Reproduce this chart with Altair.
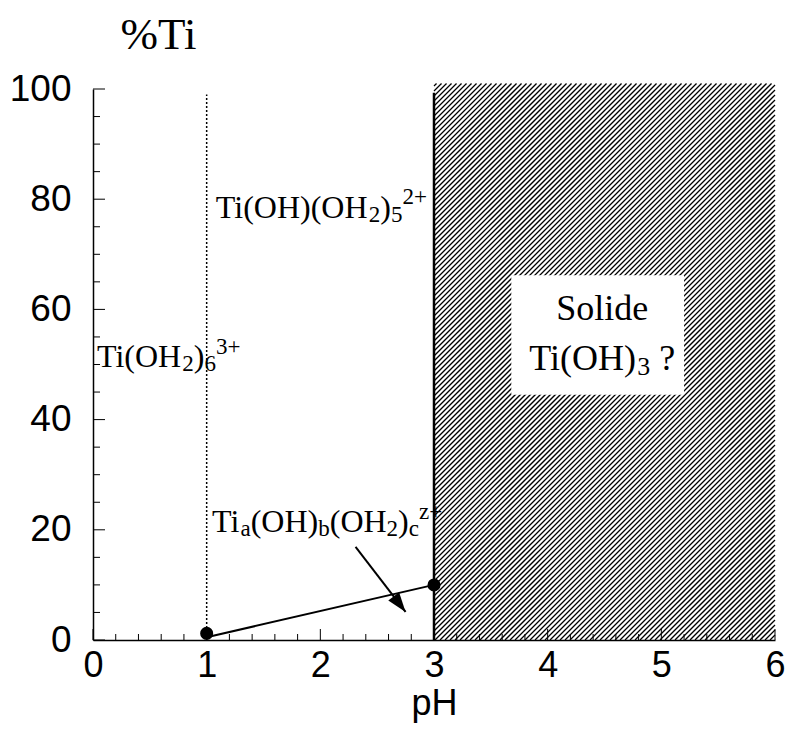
import altair as alt
import pandas as pd
import numpy as np

# ---------------- data ----------------
x_ticks = [0, 1, 2, 3, 4, 5, 6]
y_ticks = [0, 20, 40, 60, 80, 100]

point_ph = [1.0, 3.0]
point_ti = [1.2, 10.0]

seg_ph = [1.0, 3.0]
seg_ti = [0.5, 10.0]

arrow_from = [2.31, 16.9]
arrow_to = [2.75, 5.1]

dotted_ph = 1.0
dotted_top = 99.0
solid_ph = 3.0
solid_top = 99.3

solid_region_ph = [3.0, 6.0]
solid_region_ti = [0.0, 101.0]

box_ph = [3.68, 5.20]
box_ti = [44.5, 66.2]

# ---------------- geometry ----------------
W, H = 682, 551
XMIN, XMAX, YMIN, YMAX = 0, 6, 0, 100
KX = W / (XMAX - XMIN)
KY = H / (YMAX - YMIN)

XSCALE = alt.Scale(domain=[XMIN, XMAX], nice=False, zero=False)
YSCALE = alt.Scale(domain=[YMIN, YMAX], nice=False, zero=False)

XAXIS = alt.Axis(values=x_ticks, ticks=False, grid=False, domain=True,
                 domainColor="black", domainWidth=1.5, format="d",
                 labelFont="Liberation Sans", labelFontSize=36, labelColor="black",
                 labelPadding=8, labelFlush=False, labelOverlap=False,
                 title="pH", titleFont="Liberation Sans", titleFontSize=36,
                 titleFontWeight="normal", titleColor="black", titlePadding=3)
YAXIS = alt.Axis(values=y_ticks, ticks=False, grid=False, domain=True,
                 domainColor="black", domainWidth=1.5, format="d",
                 labelFont="Liberation Sans", labelFontSize=37, labelColor="black",
                 labelPadding=22, labelFlush=False, labelOverlap=False,
                 title="%Ti", titleAngle=0, titleX=65, titleY=-41,
                 titleAlign="center", titleBaseline="alphabetic",
                 titleFont="Liberation Serif", titleFontSize=45,
                 titleFontWeight="normal", titleColor="black")


def X(f="x"):
    return alt.X(f"{f}:Q", scale=XSCALE, axis=XAXIS)


def Y(f="y"):
    return alt.Y(f"{f}:Q", scale=YSCALE, axis=YAXIS)


# ---------------- hatch of the solid region ----------------
x0, x1 = solid_region_ph
y0, y1 = solid_region_ti
uw, vh = (x1 - x0) * KX, (y1 - y0) * KY
step = 5.0
rows = []
c = -uw
while c < vh:
    ua = max(0.0, -c)
    ub = min(uw, vh - c)
    if ub > ua:
        rows.append({"x": x0 + ua / KX, "y": y0 + (ua + c) / KY,
                     "x2": x0 + ub / KX, "y2": y0 + (ub + c) / KY})
    c += step
hatch_df = pd.DataFrame(rows)
hatch = alt.Chart(hatch_df).mark_rule(color="black", strokeWidth=1.3).encode(
    x=X(), y=Y(), x2="x2:Q", y2="y2:Q")

box = alt.Chart(pd.DataFrame({"x": [box_ph[0]], "x2": [box_ph[1]],
                              "y": [box_ti[0]], "y2": [box_ti[1]]})).mark_rect(
    fill="white").encode(x=X(), x2="x2:Q", y=Y(), y2="y2:Q")

solid_line = alt.Chart(pd.DataFrame({"x": [solid_ph], "y": [0.0], "y2": [solid_top]})).mark_rule(
    color="black", strokeWidth=2.5).encode(x=X(), y=Y(), y2="y2:Q")

dotted_line = alt.Chart(pd.DataFrame({"x": [dotted_ph], "y": [0.0], "y2": [dotted_top]})).mark_rule(
    color="black", strokeWidth=1.5, strokeDash=[2, 2]).encode(x=X(), y=Y(), y2="y2:Q")

seg = alt.Chart(pd.DataFrame({"x": seg_ph, "y": seg_ti})).mark_line(
    color="black", strokeWidth=2).encode(x=X(), y=Y())

pts = alt.Chart(pd.DataFrame({"x": point_ph, "y": point_ti})).mark_point(
    filled=True, color="black", size=170, opacity=1, shape="circle").encode(x=X(), y=Y())

shaft = alt.Chart(pd.DataFrame({"x": [arrow_from[0]], "y": [arrow_from[1]],
                                "x2": [arrow_to[0]], "y2": [arrow_to[1]]})).mark_rule(
    color="black", strokeWidth=2).encode(x=X(), y=Y(), x2="x2:Q", y2="y2:Q")

# direction in screen coords: dx right, dy down
sdx = (arrow_to[0] - arrow_from[0]) * KX
sdy = -(arrow_to[1] - arrow_from[1]) * KY
ang = float(np.degrees(np.arctan2(sdx, -sdy))) % 360
head = alt.Chart(pd.DataFrame({"x": [arrow_to[0]], "y": [arrow_to[1]]})).mark_point(
    filled=True, color="black", opacity=1, size=380, angle=ang,
    shape="M0,0 L0.7,2 L-0.7,2 Z").encode(x=X(), y=Y())

# ---------------- ticks (inside) ----------------
x_minor = [round(v, 1) for v in np.arange(0.2, 6.0, 0.2) if abs(v - round(v)) > 1e-6]
y_minor = [v for v in range(5, 100, 5) if v % 20 != 0]

xt_major = alt.Chart(pd.DataFrame({"x": x_ticks})).mark_rule(color="black", strokeWidth=1).encode(
    x=X(), y=alt.value(H), y2=alt.value(H - 11))
xt_minor = alt.Chart(pd.DataFrame({"x": x_minor})).mark_rule(color="black", strokeWidth=1).encode(
    x=X(), y=alt.value(H), y2=alt.value(H - 6))
yt_major = alt.Chart(pd.DataFrame({"y": y_ticks})).mark_rule(color="black", strokeWidth=1).encode(
    y=Y(), x=alt.value(0), x2=alt.value(12))
yt_minor = alt.Chart(pd.DataFrame({"y": y_minor})).mark_rule(color="black", strokeWidth=1).encode(
    y=Y(), x=alt.value(0), x2=alt.value(7))

# ---------------- labels with sub/superscripts ----------------
TW = {"T": 611, "i": 278, "(": 333, ")": 333, "O": 722, "H": 722, "+": 564,
      "a": 444, "b": 500, "c": 444, "z": 444, "S": 556, "o": 500, "l": 278,
      "d": 500, "e": 444, "?": 444, " ": 250}
for dgt in "0123456789":
    TW[dgt] = 500

SUB_SCALE, SUB_DY, SUP_SCALE, SUP_DY = 0.72, 0.13, 0.72, -0.42


def frag_rows(parts, xd, yd, S, center=False):
    items = []
    for text, kind in parts:
        sc = 1.0 if kind == "n" else (SUB_SCALE if kind == "sub" else SUP_SCALE)
        dy = 0.0 if kind == "n" else (SUB_DY if kind == "sub" else SUP_DY)
        w = sum(TW.get(ch, 500) for ch in text) * S * sc / 1000.0
        items.append((text, S * sc, dy * S, w))
    total = sum(it[3] for it in items)
    cur = -total / 2 if center else 0.0
    out = []
    for text, fs, dy, w in items:
        if text.strip():
            out.append({"x": xd + cur / KX, "y": yd - dy / KY, "t": text, "fs": fs})
        cur += w
    return out


lab_rows = []
lab_rows += frag_rows([("Ti(OH)(OH", "n"), ("2", "sub"), (")", "n"), ("5", "sub"), ("2+", "sup")],
                      1.081, 76.6, 32)
lab_rows += frag_rows([("Ti(OH", "n"), ("2", "sub"), (")", "n"), ("6", "sub"), ("3+", "sup")],
                      0.035, 49.5, 32)
lab_rows += frag_rows([("Ti", "n"), ("a", "sub"), ("(OH)", "n"), ("b", "sub"), ("(OH", "n"),
                       ("2", "sub"), (")", "n"), ("c", "sub"), ("z+", "sup")],
                      1.047, 19.6, 32)
lab_rows += frag_rows([("Solide", "n")], 4.48, 58.1, 36, center=True)
lab_rows += frag_rows([("Ti(OH)", "n"), ("3", "sub"), (" ", "n"), ("?", "n")], 4.48, 49.0, 36, center=True)

labels = alt.Chart(pd.DataFrame(lab_rows)).mark_text(
    font="Liberation Serif", align="left", baseline="alphabetic", color="black").encode(
    x=X(), y=Y(), text="t:N", size=alt.Size("fs:Q", scale=None, legend=None))

chart = alt.layer(
    hatch, box, solid_line, dotted_line, seg, pts, shaft, head,
    xt_major, xt_minor, yt_major, yt_minor, labels
).properties(
    width=W, height=H,
    autosize=alt.AutoSizeParams(type="none"),
    padding={"left": 85, "top": 81, "right": 11, "bottom": 85},
).configure_view(stroke=None)

chart.save("out.html", embed_options={"renderer": "svg", "actions": False})
